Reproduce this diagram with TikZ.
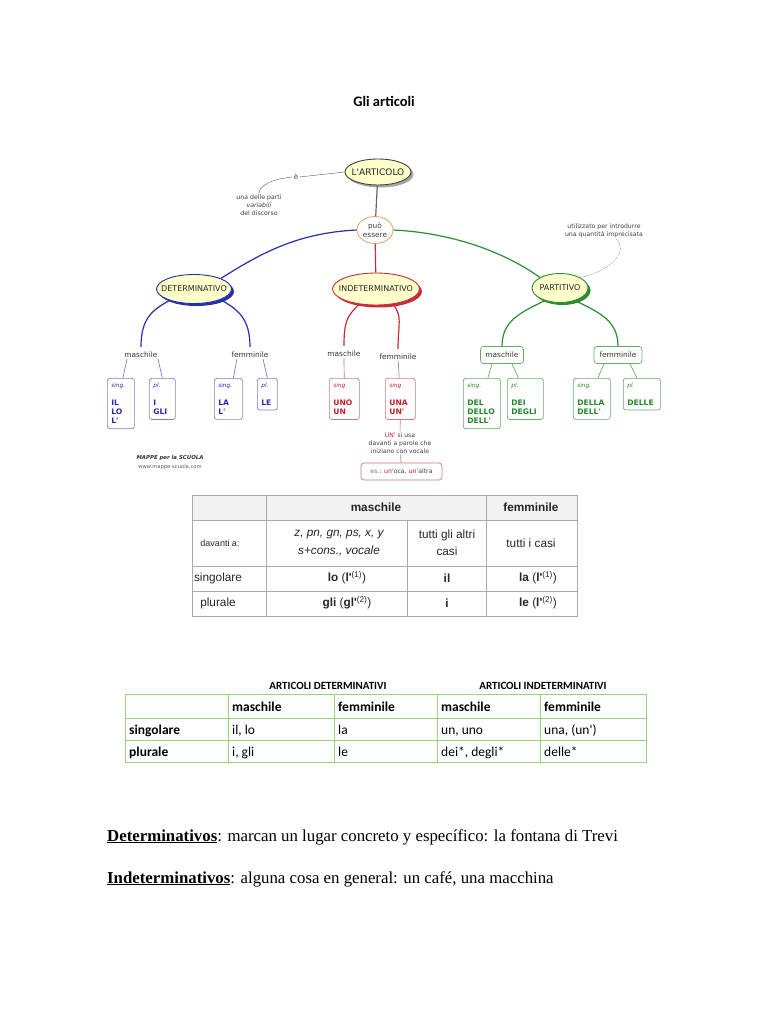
\documentclass[tikz,border=0pt]{standalone}
\usepackage{fontspec}
\setmainfont{Liberation Serif}
\newfontfamily\mapfont{DejaVu Sans}
\newfontfamily\tabfont{Liberation Sans}
\newfontfamily\calfont{Carlito}
\usepackage{xcolor}
\usetikzlibrary{shapes.geometric,shadows}

\definecolor{mapblue}{RGB}{38,48,170}
\definecolor{mapred}{RGB}{200,45,55}
\definecolor{mapgreen}{RGB}{45,140,50}
\definecolor{ellfill}{RGB}{255,255,204}
\definecolor{puoborder}{RGB}{225,160,110}
\definecolor{boxblue}{RGB}{125,125,200}
\definecolor{boxred}{RGB}{200,120,120}
\definecolor{boxgreen}{RGB}{105,170,105}
\definecolor{textblue}{RGB}{40,40,170}
\definecolor{textred}{RGB}{195,30,45}
\definecolor{textgreen}{RGB}{35,135,40}
\definecolor{gridgray}{RGB}{170,170,170}
\definecolor{headgray}{RGB}{242,242,242}
\definecolor{gridgreen}{RGB}{150,212,130}

\newcommand{\sng}[1]{{\mdseries\itshape\fontsize{5.8}{7}\selectfont #1}}

\tikzset{
  concept/.style={ellipse, draw=#1, fill=ellfill, line width=0.9pt,
    inner xsep=-8pt, inner ysep=0pt, text=black!85,
    font=\mapfont\fontsize{8}{9}\selectfont,
    drop shadow={shadow xshift=2.5pt, shadow yshift=-2.5pt, fill=#1, opacity=1}},
  gender/.style={font=\mapfont\fontsize{7.4}{8.5}\selectfont, text=black!80, inner sep=1pt},
  gbox/.style={draw=boxgreen, rounded corners=3pt, line width=0.7pt, minimum height=17pt},
  note/.style={font=\mapfont\fontsize{6.2}{8}\selectfont, text=black!75, align=center, inner sep=1pt},
  artbox/.style={draw, rounded corners=2.5pt, line width=0.7pt, anchor=north west,
    align=left, inner xsep=4pt, inner ysep=5pt,
    font=\mapfont\fontsize{7.6}{9.3}\selectfont\bfseries},
  bluebox/.style={artbox, draw=boxblue, text=textblue},
  redbox/.style={artbox, draw=boxred, text=textred},
  greenbox/.style={artbox, draw=boxgreen, text=textgreen},
  link/.style={line width=1.2pt},
  twig/.style={line width=0.7pt},
  tab/.style={font=\tabfont\fontsize{11.8}{17.5}\selectfont, text=black!85, align=center},
  cell/.style={font=\calfont\fontsize{13.5}{16}\selectfont, anchor=base west, inner sep=0pt},
  body/.style={font=\fontsize{16.8}{20}\selectfont, anchor=base west, inner sep=0pt}
}

\begin{document}
\begin{tikzpicture}[x=1pt, y=-1pt, every node/.style={inner sep=1pt}]
  \useasboundingbox (0,0) rectangle (768,1024);
  % title
  \node[font=\calfont\fontsize{14.5}{17}\selectfont\bfseries] (title) at (384,101) {Gli articoli};

  % concept map: top
  \node[concept=black!35, draw=black!75, minimum width=66pt, minimum height=26pt,
    font=\mapfont\fontsize{9}{10}\selectfont] (art) at (378,172) {L'ARTICOLO};
  \node[ellipse, draw=puoborder, line width=0.8pt, fill=white, minimum width=36pt,
    minimum height=27pt, inner sep=0pt, align=center, text=black!75,
    font=\mapfont\fontsize{7.4}{8.8}\selectfont] (puo) at (375,230) {può\\essere};
  \node[note, font=\mapfont\fontsize{7}{8}\selectfont] (e) at (296,177) {è};
  \node[note] (parti) at (259,205) {una delle parti\\\textit{variabili}\\del discorso};
  \node[note] (pnote) at (604,231) {utilizzato per introdurre\\una quantità imprecisata};
  \draw[thin, black!65] (art.west) -- (e.east);
  \draw[thin, black!65] (e.west) .. controls +(-22,2) and +(0,-7) .. (parti.north);
  \draw[link, black!60] (art) -- (puo);

  % the three kinds
  \node[concept=mapblue, minimum width=75pt, minimum height=29pt] (det) at (194,289) {DETERMINATIVO};
  \node[concept=mapred, minimum width=87pt, minimum height=32pt] (ind) at (376,289) {INDETERMINATIVO};
  \node[concept=mapgreen, minimum width=56pt, minimum height=29pt] (part) at (560,288) {PARTITIVO};
  \draw[link, mapblue] (puo.west) .. controls +(-60,3) and +(40,-25) .. (det.north east);
  \draw[link, mapred] (puo) -- (ind);
  \draw[link, mapgreen] (puo.east) .. controls +(60,3) and +(-35,-25) .. (part.north west);
  \draw[thin, black!50, dash pattern=on 1.5pt off 1pt]
    ([xshift=12pt]pnote.south) .. controls +(12,10) and +(35,-8) .. (part.north east);

  % genders
  \node[gender] (dm) at (141,355) {maschile};
  \node[gender] (df) at (250,355) {femminile};
  \node[gender] (rm) at (344,354) {maschile};
  \node[gender] (rf) at (398,357) {femminile};
  \node[gender, gbox, minimum width=43pt] (gm) at (502,355) {maschile};
  \node[gender, gbox, minimum width=48pt] (gf) at (618,355) {femminile};
  \draw[link, mapblue] (det.205) .. controls +(-18,10) and +(0,-28) .. ([yshift=4pt]dm.north);
  \draw[link, mapblue] (det.338) .. controls +(18,10) and +(0,-28) .. ([yshift=4pt]df.north);
  \draw[link, mapred] (ind.222) .. controls +(-12,12) and +(0,-25) .. ([yshift=4pt]rm.north);
  \draw[link, mapred] (ind.318) .. controls +(10,12) and +(0,-25) .. ([yshift=4pt]rf.north);
  \draw[link, mapgreen] (part.220) .. controls +(-25,12) and +(0,-25) .. (gm.north);
  \draw[link, mapgreen] (part.320) .. controls +(25,12) and +(0,-25) .. (gf.north);

  % article boxes
  \node[bluebox, text width=19pt] (b1) at (107,378) {\sng{sing.}\\[8pt]IL\\LO\\L'};
  \node[bluebox, text width=18pt] (b2) at (149,378) {\sng{pl.}\\[8pt]I\\GLI};
  \node[bluebox, text width=20pt] (b3) at (214,378) {\sng{sing.}\\[8pt]LA\\L'};
  \node[bluebox, text width=12pt] (b4) at (257,378) {\sng{pl.}\\[8pt]LE};
  \node[redbox, text width=22pt] (r1) at (329,378) {\sng{sing.}\\[8pt]UNO\\UN};
  \node[redbox, text width=22pt] (r2) at (385,378) {\sng{sing.}\\[8pt]UNA\\UN'};
  \node[greenbox, text width=29pt] (g1) at (463,378) {\sng{sing.}\\[8pt]DEL\\DELLO\\DELL'};
  \node[greenbox, text width=28pt] (g2) at (507,378) {\sng{pl.}\\[8pt]DEI\\DEGLI};
  \node[greenbox, text width=29pt] (g3) at (573,378) {\sng{sing.}\\[8pt]DELLA\\DELL'};
  \node[greenbox, text width=29pt] (g4) at (623,378) {\sng{pl.}\\[8pt]DELLE};
  \draw[twig, boxblue] ([xshift=-14pt]dm.south) -- ([xshift=2pt]b1.north);
  \draw[twig, boxblue] ([xshift=17pt]dm.south) -- (b2.north);
  \draw[twig, boxblue] ([xshift=-13pt]df.south) -- ([xshift=5pt]b3.north);
  \draw[twig, boxblue] ([xshift=13pt]df.south) -- (b4.north);
  \draw[twig, boxred] (rm) -- (r1);
  \draw[twig, boxred] (rf) -- (r2);
  \draw[twig, boxgreen] ([xshift=-10pt]gm.south) -- ([xshift=6pt]g1.north);
  \draw[twig, boxgreen] ([xshift=10pt]gm.south) -- ([xshift=-7pt]g2.north);
  \draw[twig, boxgreen] ([xshift=-14pt]gf.south) -- ([xshift=6pt]g3.north);
  \draw[twig, boxgreen] ([xshift=12pt]gf.south) -- ([xshift=-5pt]g4.north);

  % note on un'
  \node[note, font=\mapfont\fontsize{6.1}{7.9}\selectfont] (rnote) at (400,443)
    {\textcolor{textred}{UN'} si usa\\davanti a parole che\\iniziano con vocale};
  \node[note, draw=boxred, rounded corners=3pt, line width=0.7pt, minimum width=81pt,
    minimum height=17pt] (es) at (401.5,471.5)
    {\textcolor{black!55}{es.:} \textcolor{textred}{un}'oca, \textcolor{textred}{un}'altra};
  \draw[twig, boxred] (r2) -- (rnote);
  \draw[twig, boxred] (rnote) -- (es);

  % credits
  \node[font=\mapfont\fontsize{5.4}{6.5}\selectfont\bfseries\itshape, text=black!80] (mappe) at (170,458) {MAPPE per la SCUOLA};
  \node[font=\mapfont\fontsize{5.2}{6}\selectfont, text=black!65] (www) at (170,467) {www.mappe-scuola.com};

  % first table
  \fill[headgray] (192,495) rectangle (577,520);
  \draw[gridgray] (192,495) rectangle (577,616);
  \foreach \y in {520,566,591} \draw[gridgray] (192,\y) -- (577,\y);
  \foreach \x in {266,486} \draw[gridgray] (\x,495) -- (\x,616);
  \draw[gridgray] (407,520) -- (407,616);
  \node[tab] (hmas) at (376,507) {\bfseries maschile};
  \node[tab] (hfem) at (531,507) {\bfseries femminile};
  \node[tab, font=\tabfont\fontsize{9}{11}\selectfont] (dav) at (220,543) {davanti a:};
  \node[tab, font=\tabfont\fontsize{11.8}{17.5}\selectfont\itshape] (cons) at (339,543) {z, pn, gn, ps, x, y\\s+cons., vocale};
  \node[tab] (altri) at (447,543) {tutti gli altri\\casi};
  \node[tab] (casi) at (531,543) {tutti i casi};
  \node[tab] (sing) at (218,578) {singolare};
  \node[tab] (lo) at (347,578) {\textbf{lo} (\textbf{l'}\textsuperscript{(1)})};
  \node[tab] (il) at (447,578) {\textbf{il}};
  \node[tab] (la) at (538,578) {\textbf{la} (\textbf{l'}\textsuperscript{(1)})};
  \node[tab] (plur) at (218,603) {plurale};
  \node[tab] (gli) at (347,603) {\textbf{gli} (\textbf{gl'}\textsuperscript{(2)})};
  \node[tab] (i) at (447,603) {\textbf{i}};
  \node[tab] (le) at (538,603) {\textbf{le} (\textbf{l'}\textsuperscript{(2)})};

  % second table
  \node[font=\calfont\fontsize{11}{13}\selectfont\bfseries] (hdet) at (328,686) {ARTICOLI DETERMINATIVI};
  \node[font=\calfont\fontsize{11}{13}\selectfont\bfseries] (hind) at (543,686) {ARTICOLI INDETERMINATIVI};
  \draw[gridgreen] (125,694) rectangle (646,762);
  \foreach \y in {718,740} \draw[gridgreen] (125,\y) -- (646,\y);
  \foreach \x in {228,334,437,540} \draw[gridgreen] (\x,694) -- (\x,762);
  \node[cell] (m1) at (232,711) {\bfseries maschile};
  \node[cell] (f1) at (338,711) {\bfseries femminile};
  \node[cell] (m2) at (441,711) {\bfseries maschile};
  \node[cell] (f2) at (544,711) {\bfseries femminile};
  \node[cell] (s) at (129,734) {\bfseries singolare};
  \node[cell] (ilo) at (232,734) {il, lo};
  \node[cell] (la2) at (338,734) {la};
  \node[cell] (un) at (441,734) {un, uno};
  \node[cell] (una) at (544,734) {una, (un')};
  \node[cell] (p) at (129,756) {\bfseries plurale};
  \node[cell] (igli) at (232,756) {i, gli};
  \node[cell] (le2) at (338,756) {le};
  \node[cell] (dei) at (441,756) {dei*, degli*};
  \node[cell] (delle) at (544,756) {delle*};

  % definitions
  \node[body] (ddef) at (107,841) {\underline{\textbf{Determinativos}}: marcan un lugar concreto y específico: la fontana di Trevi};
  \node[body] (idef) at (107,883) {\underline{\textbf{Indeterminativos}}: alguna cosa en general: un café, una macchina};
\end{tikzpicture}
\end{document}
